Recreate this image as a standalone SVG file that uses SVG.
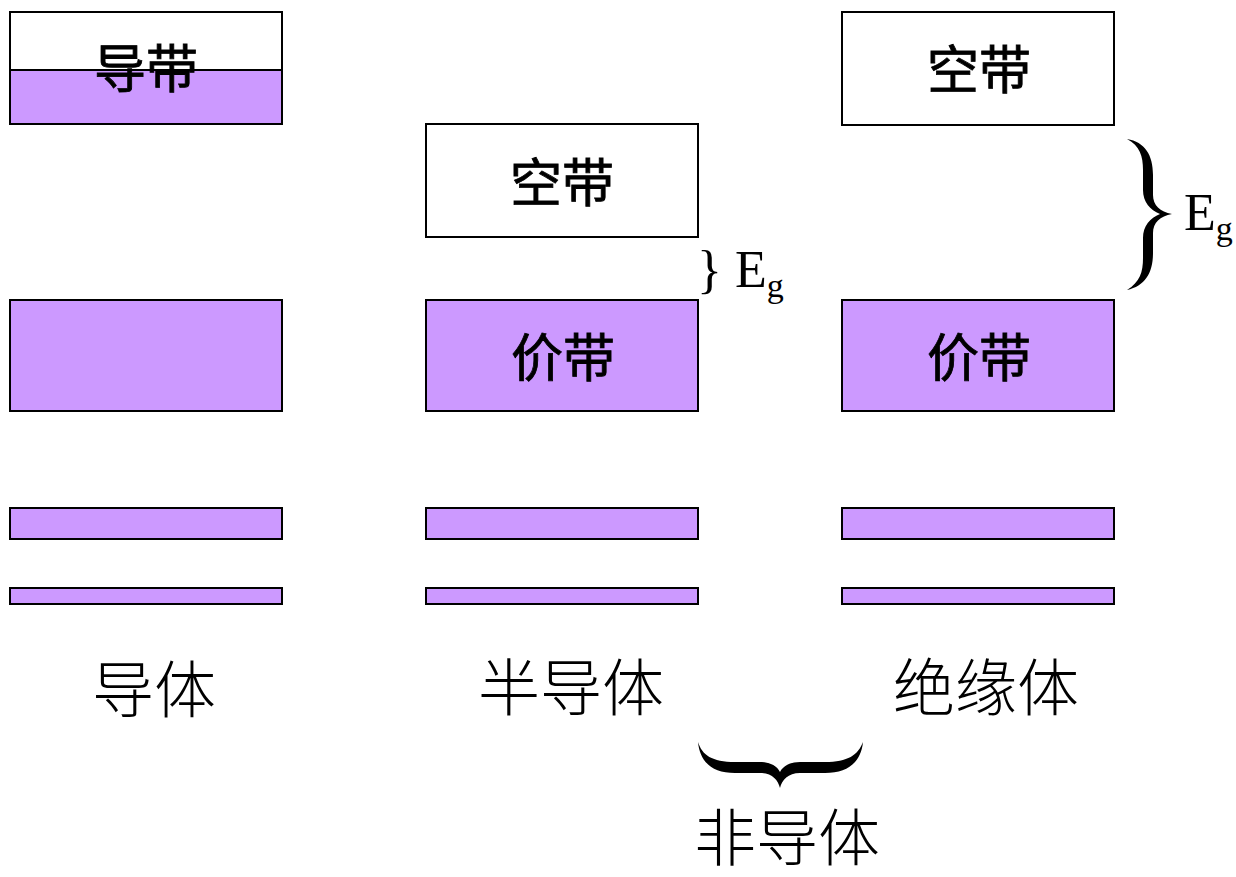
<svg xmlns="http://www.w3.org/2000/svg" width="1236" height="877" viewBox="0 0 1236 877">
<style>
.band{fill:#CC99FF;stroke:#000;stroke-width:2}
.empty{fill:#fff;stroke:#000;stroke-width:2}
.bl{font-family:"Noto Sans CJK SC",sans-serif;font-size:52px;font-weight:400;fill:#000;text-anchor:middle;stroke:#000;stroke-width:0.8}
.cap{font-family:"Noto Sans CJK SC",sans-serif;font-size:62px;font-weight:300;fill:#000;text-anchor:middle}
.eg{font-family:"Liberation Serif",serif;font-size:52px;fill:#000}
.sub{font-size:34px}
.brace{fill:#000;stroke:none}
</style>
<rect width="1236" height="877" fill="#fff"/>
<g id="conductor">
  <g id="conductor-conduction">
    <rect class="empty" x="10" y="12" width="272" height="112"/>
    <rect class="band" x="10" y="70" width="272" height="54"/>
    <text class="bl" x="146" y="88">导带</text>
  </g>
  <rect id="conductor-valence" class="band" x="10" y="300" width="272" height="111"/>
  <rect id="conductor-band3" class="band" x="10" y="508" width="272" height="31"/>
  <rect id="conductor-band4" class="band" x="10" y="588" width="272" height="16"/>
  <text id="conductor-label" class="cap" x="154" y="713">导体</text>
</g>
<g id="semiconductor">
  <g id="semi-empty">
    <rect class="empty" x="426" y="124" width="272" height="113"/>
    <text class="bl" x="562" y="202">空带</text>
  </g>
  <g id="semi-valence">
    <rect class="band" x="426" y="300" width="272" height="111"/>
    <text class="bl" x="563" y="377">价带</text>
  </g>
  <rect id="semi-band3" class="band" x="426" y="508" width="272" height="31"/>
  <rect id="semi-band4" class="band" x="426" y="588" width="272" height="16"/>
  <text id="semi-label" class="cap" x="571" y="711">半导体</text>
  <text id="semi-eg" class="eg" x="697" y="287">} E<tspan class="sub" dy="10">g</tspan></text>
</g>
<g id="insulator">
  <g id="ins-empty">
    <rect class="empty" x="842" y="12" width="272" height="113"/>
    <text class="bl" x="979" y="89">空带</text>
  </g>
  <g id="ins-valence">
    <rect class="band" x="842" y="300" width="272" height="111"/>
    <text class="bl" x="979" y="377">价带</text>
  </g>
  <rect id="ins-band3" class="band" x="842" y="508" width="272" height="31"/>
  <rect id="ins-band4" class="band" x="842" y="588" width="272" height="16"/>
  <text id="ins-label" class="cap" x="986" y="711">绝缘体</text>
  <text id="ins-eg" class="eg" x="1184" y="230">E<tspan class="sub" dy="10">g</tspan></text>
</g>
<g id="connectors">
  <path id="brace-eg" class="brace" d="M1127,139 C1145,142 1153,155 1153,175 L1153,195 C1153,205 1160,212 1172,214 C1160,216 1153,223 1153,233 L1153,253 C1153,273 1145,286 1127,290 C1140,282 1143,272 1143,258 L1143,238 C1143,226 1150,218 1160,214 C1150,210 1143,202 1143,190 L1143,170 C1143,156 1140,146 1127,139 Z"/>
  <path id="brace-nonconductor" class="brace" d="M698,742 C700,762 712,773 735,773 L760,773 C772,773 778,780 780,788 C782,780 788,773 800,773 L825,773 C848,773 861,762 863,742 C858,755 848,762 825,762 L800,762 C790,762 783,766 780,772 C777,766 770,762 760,762 L735,762 C712,762 702,755 698,742 Z"/>
</g>
<g id="nonconductor">
  <text id="nonconductor-label" class="cap" x="787" y="861">非导体</text>
</g>
</svg>
